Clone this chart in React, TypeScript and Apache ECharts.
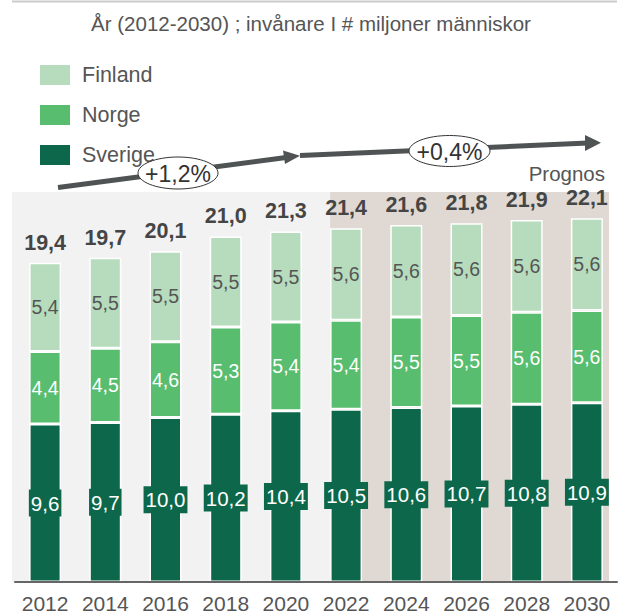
import React, { useEffect, useRef } from "react";
import * as echarts from "echarts";

const years = ["2012", "2014", "2016", "2018", "2020", "2022", "2024", "2026", "2028", "2030"];
const sverige = [9.6, 9.7, 10.0, 10.2, 10.4, 10.5, 10.6, 10.7, 10.8, 10.9];
const norge = [4.4, 4.5, 4.6, 5.3, 5.4, 5.4, 5.5, 5.5, 5.6, 5.6];
const finland = [5.4, 5.5, 5.5, 5.5, 5.5, 5.6, 5.6, 5.6, 5.6, 5.6];
const totals = [19.4, 19.7, 20.1, 21.0, 21.3, 21.4, 21.6, 21.8, 21.9, 22.1];
const growthLabels = ["+1,2%", "+0,4%"];
const prognosStart = "2022";
const titleText = "År (2012-2030) ; invånare I # miljoner människor";

const FONT = "'Liberation Sans', Arial, Helvetica, sans-serif";
const C_FIN = "#b6dcbd";
const C_NOR = "#58bd6e";
const C_SVE = "#0d684b";
const C_GRAY = "#f2f2f2";
const C_BEIGE = "#e0d8d3";
const C_TEXT = "#555555";
const C_ARROW = "#4f5354";

const fmt = (v: number) => v.toFixed(1).replace(".", ",");

export default function App() {
  const ref = useRef<HTMLDivElement>(null);
  useEffect(() => {
    if (!ref.current) return;
    const chart = echarts.init(ref.current, null, { renderer: "svg" });
    const BAR_W = 32;
    const gridTop = 192;
    const gridBottom = 31.5;
    chart.setOption({
      animation: false,
      backgroundColor: "#ffffff",
      textStyle: { fontFamily: FONT },
      title: {
        text: titleText,
        left: "center",
        top: 13,
        padding: 0,
        textStyle: { fontFamily: FONT, fontSize: 20.5, fontWeight: "normal", color: C_TEXT },
      },
      legend: {
        data: ["Finland", "Norge", "Sverige"],
        orient: "vertical",
        left: 38,
        top: 63,
        padding: 0,
        itemWidth: 32,
        itemHeight: 22,
        itemGap: 16,
        icon: "rect",
        selectedMode: false,
        textStyle: { fontFamily: FONT, fontSize: 21.5, color: C_TEXT, padding: [0, 0, 0, 6] },
      },
      grid: { left: 15, right: 5, top: gridTop, bottom: gridBottom, containLabel: false },
      xAxis: {
        type: "category",
        data: years,
        axisLine: { show: true, lineStyle: { color: "#666666", width: 2 } },
        axisTick: { show: false },
        axisLabel: { fontFamily: FONT, fontSize: 21, color: C_TEXT, margin: 11, interval: 0 },
        z: 5,
      },
      yAxis: { type: "value", min: 0, max: 23.7, show: false, splitLine: { show: false } },
      series: [
        {
          name: "Sverige",
          type: "bar",
          stack: "total",
          barWidth: BAR_W,
          data: sverige,
          itemStyle: { color: C_SVE, borderColor: "#ffffff", borderWidth: 1.5 },
          label: {
            show: true,
            position: "inside",
            formatter: (p: any) => fmt(p.value),
            color: "#ffffff",
            fontFamily: FONT,
            fontSize: 20.5,
            backgroundColor: C_SVE,
            padding: [3, 2, 3, 2],
          },
        },
        {
          name: "Norge",
          type: "bar",
          stack: "total",
          barWidth: BAR_W,
          data: norge,
          itemStyle: { color: C_NOR, borderColor: "#ffffff", borderWidth: 1.5 },
          label: {
            show: true,
            position: "inside",
            formatter: (p: any) => fmt(p.value),
            color: "#ffffff",
            fontFamily: FONT,
            fontSize: 19.5,
          },
        },
        {
          name: "Finland",
          type: "bar",
          stack: "total",
          barWidth: BAR_W,
          data: finland,
          itemStyle: { color: C_FIN, borderColor: "#ffffff", borderWidth: 1.5 },
          label: {
            show: true,
            position: "inside",
            formatter: (p: any) => fmt(p.value),
            color: C_TEXT,
            fontFamily: FONT,
            fontSize: 19.5,
          },
        },
        {
          name: "Total",
          type: "bar",
          stack: "total",
          barWidth: BAR_W,
          data: totals.map(() => 0),
          itemStyle: { color: "transparent" },
          label: {
            show: true,
            position: "top",
            distance: 9,
            formatter: (p: any) => fmt(totals[p.dataIndex]),
            color: "#454545",
            fontFamily: FONT,
            fontSize: 21.5,
            fontWeight: "bold",
          },
        },
      ],
    });

    const firstC = chart.convertToPixel({ xAxisIndex: 0 }, years[0]) as number;
    const lastC = chart.convertToPixel({ xAxisIndex: 0 }, years[years.length - 1]) as number;
    const progC = chart.convertToPixel({ xAxisIndex: 0 }, prognosStart) as number;
    const baseY = chart.convertToPixel({ yAxisIndex: 0 }, 0) as number;
    const band = (lastC - firstC) / (years.length - 1);
    const panelL = firstC - band / 2 - 3;
    const panelR = lastC + band / 2 - 8;
    const progL = progC - BAR_W / 2;
    const panelH = baseY - gridTop;

    chart.setOption({
      graphic: [
        { type: "line", shape: { x1: 12, y1: 1.5, x2: 617, y2: 1.5 }, style: { stroke: "#cccccc", lineWidth: 2 } },
        { type: "rect", z: -10, shape: { x: panelL, y: gridTop, width: progL - panelL, height: panelH }, style: { fill: C_GRAY } },
        { type: "rect", z: -10, shape: { x: progL, y: gridTop, width: panelR - progL, height: panelH }, style: { fill: C_BEIGE } },
        { type: "line", z: 10, shape: { x1: 58, y1: 187.5, x2: 286, y2: 157.5 }, style: { stroke: C_ARROW, lineWidth: 5 } },
        { type: "polygon", z: 10, shape: { points: [[300, 155.8], [283, 150.5], [285, 164]] }, style: { fill: C_ARROW } },
        { type: "line", z: 10, shape: { x1: 300, y1: 155.5, x2: 588, y2: 143 }, style: { stroke: C_ARROW, lineWidth: 5 } },
        { type: "polygon", z: 10, shape: { points: [[601, 142.7], [585, 135], [585, 151]] }, style: { fill: C_ARROW } },
        { type: "ellipse", z: 11, shape: { cx: 178, cy: 173, rx: 40, ry: 16 }, style: { fill: "#ffffff", stroke: "#333333", lineWidth: 1 } },
        { type: "text", z: 12, x: 178, y: 174, style: { text: growthLabels[0], fontFamily: FONT, fontSize: 23, fill: "#333333", align: "center", verticalAlign: "middle" } },
        { type: "ellipse", z: 11, shape: { cx: 449.5, cy: 151, rx: 40.5, ry: 15.5 }, style: { fill: "#ffffff", stroke: "#333333", lineWidth: 1 } },
        { type: "text", z: 12, x: 449.5, y: 152, style: { text: growthLabels[1], fontFamily: FONT, fontSize: 23, fill: "#333333", align: "center", verticalAlign: "middle" } },
        { type: "text", z: 12, x: 605, y: 173, style: { text: "Prognos", fontFamily: FONT, fontSize: 20.5, fill: C_TEXT, align: "right", verticalAlign: "middle" } },
      ],
    });

    return () => chart.dispose();
  }, []);
  return <div ref={ref} style={{ width: 622, height: 614, position: "absolute", left: 0, top: 0 }} />;
}
